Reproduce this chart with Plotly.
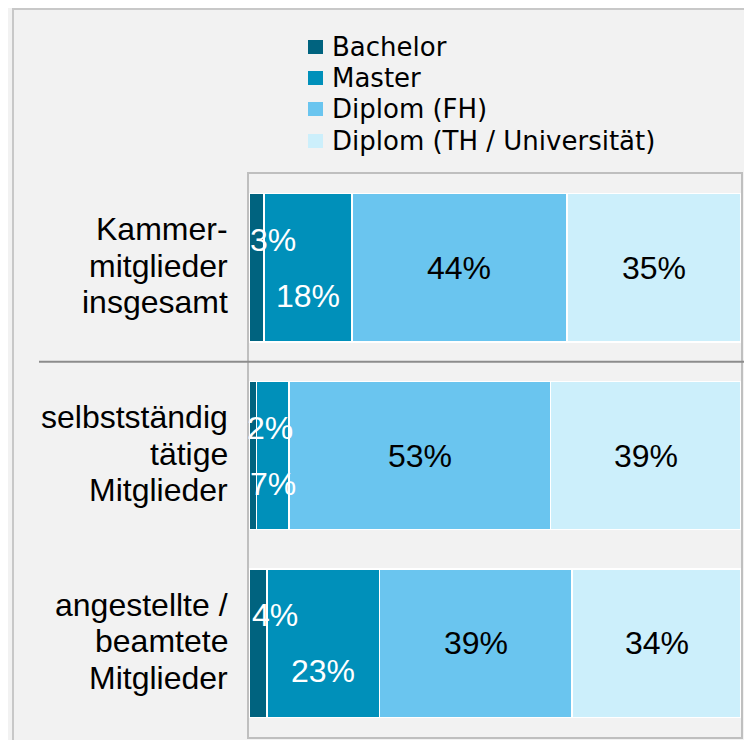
import plotly.graph_objects as go

# ---------------- data ----------------
categories = ["Kammermitglieder insgesamt", "selbstständig tätige Mitglieder",
              "angestellte / beamtete Mitglieder"]
category_lines = [["Kammer-", "mitglieder", "insgesamt"],
                  ["selbstständig", "tätige", "Mitglieder"],
                  ["angestellte /", "beamtete", "Mitglieder"]]
series_names = ["Bachelor", "Master", "Diplom (FH)", "Diplom (TH / Universität)"]
bachelor = [3.0, 1.5, 3.7]
master = [17.9, 6.6, 22.8]
diplom_fh = [43.7, 53.2, 39.2]
diplom_th = [35.4, 38.7, 34.3]
bachelor_lbl = ["3%", "2%", "4%"]
master_lbl = ["18%", "7%", "23%"]
diplom_fh_lbl = ["44%", "53%", "39%"]
diplom_th_lbl = ["35%", "39%", "34%"]

colors = ["#00637F", "#0090BA", "#6AC5EF", "#CCEFFB"]
label_colors = ["white", "white", "black", "black"]
FONT = "Liberation Sans, Arial, sans-serif"
LEGEND_FONT = "DejaVu Sans, Liberation Sans, sans-serif"

values = [bachelor, master, diplom_fh, diplom_th]
labels = [bachelor_lbl, master_lbl, diplom_fh_lbl, diplom_th_lbl]

# layout geometry (pixels); the page body adds an 8px offset
OFF = 8
W, H = 744, 732
ML, MT = 249 - OFF, 174 - OFF
PW, PH = 492, 563
MR, MB = W - ML - PW, H - MT - PH


def px_x(p):
    return (p - OFF - ML) / PW


def px_y(p):
    return (MT + PH - (p - OFF)) / PH


fig = go.Figure()
for name, vals, col in zip(series_names, values, colors):
    fig.add_trace(go.Bar(
        y=categories, x=vals, name=name, orientation="h",
        marker=dict(color=col, line=dict(color="white", width=1.5)),
        width=0.79, showlegend=False, hoverinfo="x+name",
    ))

annotations = []
# data labels
label_offsets = [(17, 28), (0, -28), (0, 0), (0, 0)]
for i in range(len(categories)):
    start = 0.0
    for s, vals in enumerate(values):
        v = vals[i]
        dx, dy = label_offsets[s]
        annotations.append(dict(
            x=start + v / 2, y=categories[i], xref="x", yref="y",
            text=labels[s][i], showarrow=False, xanchor="center", yanchor="middle",
            xshift=dx, yshift=dy,
            font=dict(family=FONT, size=32, color=label_colors[s]),
        ))
        start += v

# category labels (one annotation per line)
for i, lines in enumerate(category_lines):
    for j, line in enumerate(lines):
        annotations.append(dict(
            x=0, y=categories[i], xref="paper", yref="y",
            text=line, showarrow=False, xanchor="right", yanchor="middle",
            xshift=-19, yshift=(1 - j) * 36.5 + 2,
            font=dict(family=FONT, size=32, color="black"),
        ))

# legend (manual)
legend_centers = [47, 78, 109, 141]
shapes = []
for name, col, cy in zip(series_names, colors, legend_centers):
    annotations.append(dict(
        x=px_x(330), y=px_y(cy), xref="paper", yref="paper",
        text=name, showarrow=False, xanchor="left", yanchor="middle",
        font=dict(family=LEGEND_FONT, size=26, color="black"),
    ))
    shapes.append(dict(
        type="rect", xref="paper", yref="paper",
        x0=px_x(308), x1=px_x(323), y0=px_y(cy - 7), y1=px_y(cy + 7),
        fillcolor=col, line=dict(width=0),
    ))

# separator line between first and second group
shapes.append(dict(
    type="line", xref="paper", yref="y", x0=px_x(39), x1=px_x(760),
    y0=0.5, y1=0.5, line=dict(color="#8C8C8C", width=2), layer="above",
))
# outer frame (partially visible)
shapes.append(dict(
    type="path", xref="paper", yref="paper",
    path=f"M {px_x(13)} {px_y(760)} L {px_x(13)} {px_y(9)} L {px_x(760)} {px_y(9)}",
    line=dict(color="#C8C8C8", width=2),
))

fig.update_layout(
    width=W, height=H,
    margin=dict(l=ML, r=MR, t=MT, b=MB),
    barmode="stack",
    paper_bgcolor="#F2F2F2", plot_bgcolor="#F2F2F2",
    xaxis=dict(range=[0, 100], showgrid=False, zeroline=False, showticklabels=False,
               showline=True, mirror=True, linecolor="#BFBFBF", linewidth=2,
               layer="below traces", fixedrange=True),
    yaxis=dict(type="category", categoryorder="array", categoryarray=categories,
               range=[2.5, -0.5], showgrid=False, zeroline=False, showticklabels=False,
               showline=True, mirror=True, linecolor="#BFBFBF", linewidth=2,
               layer="below traces", fixedrange=True),
    annotations=annotations,
    shapes=shapes,
    showlegend=False,
    font=dict(family=FONT),
)

fig.write_html("out.html")
